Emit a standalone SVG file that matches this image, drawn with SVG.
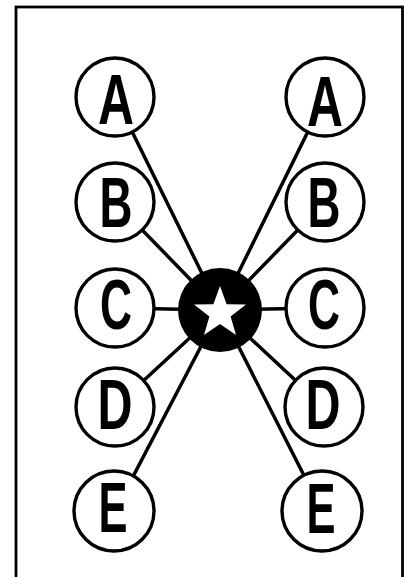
<svg xmlns="http://www.w3.org/2000/svg" width="404" height="577" viewBox="0 0 404 577">
<style>
.frame{fill:none;stroke:#000;stroke-width:2.8}
.edge{stroke:#000;stroke-width:3.5;stroke-linecap:round}
.node circle{fill:#fff;stroke:#000;stroke-width:3.4}
.node text{font-family:"Liberation Sans",Arial,sans-serif;font-weight:bold;font-size:70px;fill:#000;text-anchor:middle}
</style>
<rect width="404" height="577" fill="#fff"/>
<rect class="frame" x="16" y="7" width="386.5" height="590"/>
<g id="connectors">
<line class="edge" x1="115" y1="97" x2="220" y2="310"/>
<line class="edge" x1="115" y1="202" x2="220" y2="310"/>
<line class="edge" x1="115" y1="308" x2="220" y2="310"/>
<line class="edge" x1="115" y1="407" x2="220" y2="310"/>
<line class="edge" x1="115" y1="511" x2="220" y2="310"/>
<line class="edge" x1="325" y1="97" x2="220" y2="310"/>
<line class="edge" x1="325" y1="202" x2="220" y2="310"/>
<line class="edge" x1="325" y1="308" x2="220" y2="310"/>
<line class="edge" x1="324" y1="407" x2="220" y2="310"/>
<line class="edge" x1="322" y1="511" x2="220" y2="310"/>
</g>
<g id="left-A" class="node"><circle cx="115" cy="97" r="39"/><text x="116" y="124" textLength="36" lengthAdjust="spacingAndGlyphs">A</text></g>
<g id="left-B" class="node"><circle cx="115" cy="202" r="39"/><text x="116" y="227" textLength="33" lengthAdjust="spacingAndGlyphs">B</text></g>
<g id="left-C" class="node"><circle cx="115" cy="308" r="39"/><text x="116" y="329" textLength="32" lengthAdjust="spacingAndGlyphs">C</text></g>
<g id="left-D" class="node"><circle cx="115" cy="407" r="39"/><text x="115" y="429" textLength="35" lengthAdjust="spacingAndGlyphs">D</text></g>
<g id="left-E" class="node"><circle cx="114" cy="511" r="40"/><text x="113" y="532" textLength="29" lengthAdjust="spacingAndGlyphs">E</text></g>
<g id="right-A" class="node"><circle cx="325" cy="97" r="39"/><text x="325" y="126" textLength="36" lengthAdjust="spacingAndGlyphs">A</text></g>
<g id="right-B" class="node"><circle cx="325" cy="202" r="39"/><text x="324" y="227" textLength="33" lengthAdjust="spacingAndGlyphs">B</text></g>
<g id="right-C" class="node"><circle cx="325" cy="308" r="39"/><text x="324" y="329" textLength="32" lengthAdjust="spacingAndGlyphs">C</text></g>
<g id="right-D" class="node"><circle cx="324" cy="407" r="39"/><text x="323" y="429" textLength="35" lengthAdjust="spacingAndGlyphs">D</text></g>
<g id="right-E" class="node"><circle cx="322" cy="511" r="40"/><text x="321" y="533" textLength="29" lengthAdjust="spacingAndGlyphs">E</text></g>
<g id="center">
<circle cx="220" cy="310" r="42" fill="#000"/>
<polygon fill="#fff" points="220,286 226.6,304.2 246,304.6 230.6,316.4 236,335 220,324 204,335 209.4,316.4 194,304.6 213.4,304.2"/>
</g>
</svg>
